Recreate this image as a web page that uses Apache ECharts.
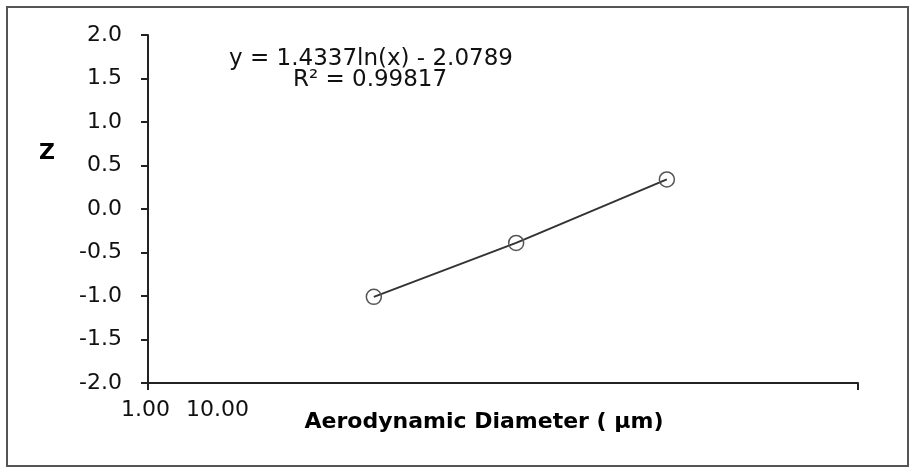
<!DOCTYPE html>
<html>
<head>
<meta charset="utf-8">
<script src="https://cdn.jsdelivr.net/npm/echarts@6/dist/echarts.min.js"></script>
<style>
  html, body { margin: 0; padding: 0; background: #fff; }
  #main { width: 912px; height: 474px; }
</style>
</head>
<body>
<div id="main"></div>
<script>
// measured points (x on log scale, um)
var diameter = [2.08, 3.30, 5.38]
var zValues = [-1.01, -0.39, 0.34]
var yTicks = { min: -2, max: 2, step: 0.5 }
var xTickLabels = ['1.00', '10.00']
var fitLines = ['y = 1.4337ln(x) - 2.0789', 'R\u00b2 = 0.99817']

var font = 'Verdana, "DejaVu Sans", sans-serif'
var myChart = echarts.init(document.getElementById('main'))

var points = diameter.map(function (d, i) { return [d, zValues[i]] })

myChart.setOption({
    animation: false,
    backgroundColor: '#fff',
    grid: { left: 148, right: 54, top: 35, bottom: 91 },
    xAxis: {
        type: 'log',
        logBase: 10,
        min: 1,
        max: 10,
        name: 'Aerodynamic Diameter ( \u00b5m)',
        nameLocation: 'middle',
        nameGap: 28,
        nameTextStyle: { fontFamily: font, fontSize: 22, fontWeight: 'bold', color: '#000', padding: [0, 38, 0, 0] },
        axisLine: { onZero: false, lineStyle: { color: '#222', width: 2 } },
        axisTick: { show: true, length: 7, lineStyle: { color: '#222', width: 2 } },
        axisLabel: { show: false },
        splitLine: { show: false },
        minorTick: { show: false }
    },
    yAxis: {
        type: 'value',
        min: yTicks.min,
        max: yTicks.max,
        interval: yTicks.step,
        axisLine: { show: true, lineStyle: { color: '#222', width: 2 } },
        axisTick: { show: true, length: 7, lineStyle: { color: '#222', width: 2 } },
        axisLabel: {
            fontFamily: font, fontSize: 22, color: '#111', margin: 26,
            formatter: function (v) { return v.toFixed(1) }
        },
        splitLine: { show: false }
    },
    series: [{
        type: 'line',
        data: points,
        symbol: 'circle',
        symbolSize: 15,
        showAllSymbol: true,
        lineStyle: { color: '#333', width: 2 },
        itemStyle: { color: 'rgba(255,255,255,0)', borderColor: '#555', borderWidth: 1.5 },
        z: 3
    }],
    graphic: [
        {
            type: 'rect', silent: true, z: -1,
            shape: { x: 7, y: 7, width: 901, height: 459 },
            style: { fill: 'none', stroke: '#555', lineWidth: 2 }
        },
        {
            type: 'text', x: 47, y: 153,
            style: { text: 'Z', font: 'bold 22px ' + font, fill: '#000', align: 'center', verticalAlign: 'middle' }
        },
        {
            type: 'text', x: 145.5, y: 410.5,
            style: { text: xTickLabels[0], font: '22px ' + font, fill: '#111', align: 'center', verticalAlign: 'middle' }
        },
        {
            type: 'text', x: 217.5, y: 410.5,
            style: { text: xTickLabels[1], font: '22px ' + font, fill: '#111', align: 'center', verticalAlign: 'middle' }
        },
        {
            type: 'text', x: 371, y: 59,
            style: { text: fitLines[0], font: '23px ' + font, fill: '#111', align: 'center', verticalAlign: 'middle' }
        },
        {
            type: 'text', x: 370, y: 80,
            style: { text: fitLines[1], font: '23px ' + font, fill: '#111', align: 'center', verticalAlign: 'middle' }
        }
    ]
})
</script>
</body>
</html>
